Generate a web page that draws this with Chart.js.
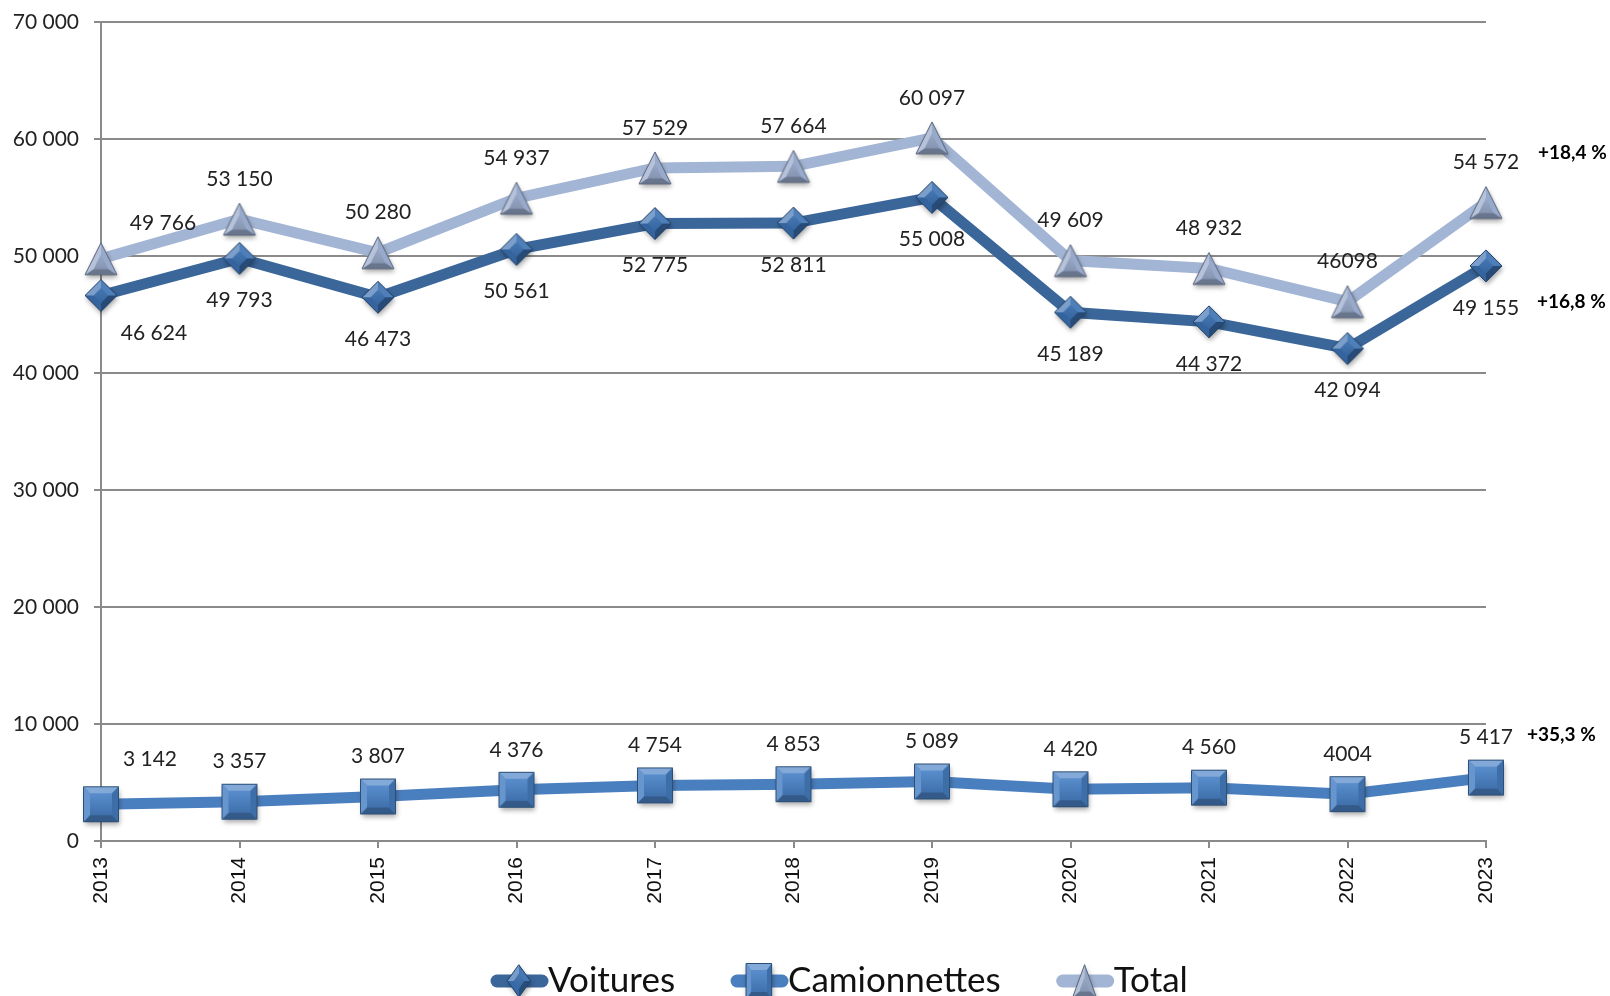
<!DOCTYPE html>
<html>
<head>
<meta charset="utf-8">
<script src="https://cdn.jsdelivr.net/npm/chart.js@4.4.1/dist/chart.umd.min.js"></script>
<style>
    html, body { margin: 0; padding: 0; background: #fff; }
</style>
</head>
<body>
<canvas id="immatriculations" width="1610" height="996"></canvas>
<script>
var annees = ['2013', '2014', '2015', '2016', '2017', '2018', '2019', '2020', '2021', '2022', '2023'];
var voitures = [46624, 49793, 46473, 50561, 52775, 52811, 55008, 45189, 44372, 42094, 49155];
var camionnettes = [3142, 3357, 3807, 4376, 4754, 4853, 5089, 4420, 4560, 4004, 5417];
var total = [49766, 53150, 50280, 54937, 57529, 57664, 60097, 49609, 48932, 46098, 54572];
var voituresLabels = ['46 624', '49 793', '46 473', '50 561', '52 775', '52 811', '55 008', '45 189', '44 372', '42 094', '49 155'];
var camionnettesLabels = ['3 142', '3 357', '3 807', '4 376', '4 754', '4 853', '5 089', '4 420', '4 560', '4004', '5 417'];
var totalLabels = ['49 766', '53 150', '50 280', '54 937', '57 529', '57 664', '60 097', '49 609', '48 932', '46098', '54 572'];
var evolutions = ['+16,8 %', '+35,3 %', '+18,4 %'];
var yTickLabels = ['0', '10 000', '20 000', '30 000', '40 000', '50 000', '60 000', '70 000'];

var DIAMOND = [[0, -16], [16, 0], [0, 16], [-16, 0]];
var SQUARE = [[-17.5, -17.5], [17.5, -17.5], [17.5, 17.5], [-17.5, 17.5]];
var TRIANGLE = [[0, -16], [16, 16], [-16, 16]];

function hexRgb(h) {
    return [parseInt(h.substr(1, 2), 16), parseInt(h.substr(3, 2), 16), parseInt(h.substr(5, 2), 16)];
}

function shade(base, t) {
    var m = t > 0 ? 255 : 0, k = Math.abs(t);
    return 'rgb(' + hexRgb(base).map(v => Math.round(v + (m - v) * k)).join(',') + ')';
}

function poly(ctx, pts) {
    ctx.beginPath();
    ctx.moveTo(pts[0][0], pts[0][1]);
    for (var i = 1; i < pts.length; i++) ctx.lineTo(pts[i][0], pts[i][1]);
    ctx.closePath();
}

// bevelled marker, a bit like the office 3D markers
function drawBevel(ctx, cx, cy, pts, base, inner, sx) {
    var gx = 0, gy = 0;
    pts.forEach(p => { gx += p[0]; gy += p[1]; });
    gx /= pts.length; gy /= pts.length;
    var P = pts.map(p => [cx + p[0] * sx, cy + p[1]]);
    var Q = pts.map(p => [cx + (gx + (p[0] - gx) * inner) * sx, cy + gy + (p[1] - gy) * inner]);
    ctx.save();
    ctx.shadowColor = 'rgba(0,0,0,0.35)';
    ctx.shadowBlur = 5;
    ctx.shadowOffsetX = 1;
    ctx.shadowOffsetY = 3;
    poly(ctx, P);
    ctx.fillStyle = base;
    ctx.fill();
    ctx.restore();
    for (var i = 0; i < P.length; i++) {
        var a = P[i], b = P[(i + 1) % P.length];
        var nx = b[1] - a[1], ny = -(b[0] - a[0]);
        var len = Math.sqrt(nx * nx + ny * ny);
        var dot = (nx * -0.45 + ny * -0.89) / len;
        poly(ctx, [a, b, Q[(i + 1) % P.length], Q[i]]);
        ctx.fillStyle = shade(base, dot * 0.35);
        ctx.fill();
    }
    var grad = ctx.createLinearGradient(0, cy - 10, 0, cy + 10);
    grad.addColorStop(0, shade(base, 0.08));
    grad.addColorStop(1, shade(base, -0.12));
    poly(ctx, Q);
    ctx.fillStyle = grad;
    ctx.fill();
    poly(ctx, P);
    ctx.strokeStyle = shade(base, -0.4);
    ctx.lineWidth = 1;
    ctx.stroke();
}

function markerCanvas(pts, base, inner) {
    var c = document.createElement('canvas');
    c.width = 54;
    c.height = 54;
    drawBevel(c.getContext('2d'), 27, 27, pts, base, inner, 1);
    return c;
}

var styles = [
    {line: '#3b6699', marker: '#3a6fb0', shape: DIAMOND, inner: 0.45, labels: voituresLabels, dy: 42, first: [53, 38], pct: [51, 36]},
    {line: '#4a7fbf', marker: '#4a82c6', shape: SQUARE, inner: 0.62, labels: camionnettesLabels, dy: -40, first: [49, -45], pct: [41, -43]},
    {line: '#a3b5d4', marker: '#98aacb', shape: TRIANGLE, inner: 0.45, labels: totalLabels, dy: -40, first: [62, -36], pct: [52, -50]}
];

var valueLabels = {
    id: 'valueLabels',
    afterDatasetsDraw: function (chart) {
        var ctx = chart.ctx;
        ctx.save();
        ctx.textBaseline = 'middle';
        chart.data.datasets.forEach(function (ds, i) {
            var st = styles[i];
            var meta = chart.getDatasetMeta(i);
            ctx.font = '21px Lato';
            ctx.fillStyle = '#222';
            ctx.textAlign = 'center';
            meta.data.forEach(function (pt, j) {
                var off = j === 0 ? st.first : [0, st.dy];
                ctx.fillText(st.labels[j], pt.x + off[0], pt.y + off[1]);
            });
            var last = meta.data[meta.data.length - 1];
            ctx.font = 'bold 19px Lato';
            ctx.fillStyle = '#000';
            ctx.textAlign = 'left';
            ctx.fillText(evolutions[i], last.x + st.pct[0], last.y + st.pct[1]);
        });
        ctx.restore();
    }
};

var legendBas = {
    id: 'legendBas',
    afterDraw: function (chart) {
        var ctx = chart.ctx;
        var x = 491, y = 981;
        ctx.save();
        ctx.font = '35px Lato';
        ctx.textBaseline = 'middle';
        chart.data.datasets.forEach(function (ds, i) {
            var st = styles[i];
            ctx.beginPath();
            ctx.moveTo(x + 6, y);
            ctx.lineTo(x + 51, y);
            ctx.lineCap = 'round';
            ctx.lineWidth = 13;
            ctx.strokeStyle = st.line;
            ctx.stroke();
            drawBevel(ctx, x + 28, y, st.shape, st.marker, st.inner, 0.72);
            x += 57;
            ctx.fillStyle = '#111';
            ctx.fillText(ds.label, x, y);
            x += ctx.measureText(ds.label).width + 56;
        });
        ctx.restore();
    }
};

function dataset(label, values, st) {
    return {
        label: label,
        data: values,
        borderColor: st.line,
        backgroundColor: st.line,
        borderWidth: 11,
        tension: 0,
        clip: false,
        pointStyle: markerCanvas(st.shape, st.marker, st.inner),
        pointRadius: 18,
        pointHoverRadius: 18
    };
}

var gridColor = '#8a8a8a';

var config = {
    type: 'line',
    data: {
        labels: annees,
        datasets: [
            dataset('Voitures', voitures, styles[0]),
            dataset('Camionnettes', camionnettes, styles[1]),
            dataset('Total', total, styles[2])
        ]
    },
    options: {
        responsive: false,
        animation: false,
        layout: {
            autoPadding: false,
            padding: {top: 22, right: 124, bottom: 0, left: 0}
        },
        scales: {
            x: {
                offset: false,
                grid: {
                    drawOnChartArea: false,
                    drawTicks: true,
                    tickLength: 7,
                    color: gridColor,
                    lineWidth: 2
                },
                border: {color: gridColor, width: 2},
                ticks: {
                    autoSkip: false,
                    minRotation: 90,
                    maxRotation: 90,
                    padding: 9,
                    color: '#111',
                    font: {family: 'Liberation Sans', size: 21}
                },
                afterFit: function (scale) {
                    scale.height = 155;
                }
            },
            y: {
                min: 0,
                max: 70000,
                grid: {
                    color: gridColor,
                    lineWidth: 2,
                    tickLength: 7
                },
                border: {color: gridColor, width: 2},
                ticks: {
                    stepSize: 10000,
                    padding: 15,
                    color: '#222',
                    font: {family: 'Lato', size: 21, lineHeight: 0.2},
                    callback: function (value, index) {
                        return yTickLabels[index];
                    }
                },
                afterFit: function (scale) {
                    scale.width = 101;
                    scale.paddingTop = 0;
                }
            }
        },
        plugins: {
            legend: {display: false},
            tooltip: {enabled: false}
        }
    },
    plugins: [valueLabels, legendBas]
};

const graphic = new Chart(document.getElementById('immatriculations'), config);
</script>
</body>
</html>
